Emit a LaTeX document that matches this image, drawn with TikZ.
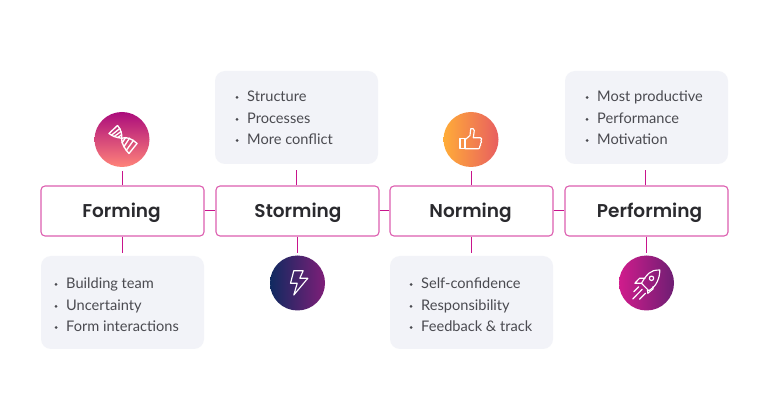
\documentclass[tikz,border=0pt]{standalone}
\usepackage{fontspec}
\setmainfont{Lato}
\newfontfamily\headfont{Poppins SemiBold}
\definecolor{mag}{HTML}{C8148C}
\definecolor{edgepink}{HTML}{DD5FB0}
\definecolor{panel}{HTML}{F2F3F8}
\definecolor{txt}{HTML}{4A4A50}
\definecolor{head}{HTML}{2A2A2E}
\definecolor{gaT}{HTML}{AB0C7C}
\definecolor{gaB}{HTML}{FF8379}
\definecolor{gbL}{HTML}{102A60}
\definecolor{gbR}{HTML}{7E1E78}
\definecolor{gcL}{HTML}{FFAC38}
\definecolor{gcR}{HTML}{E85E60}
\definecolor{gdL}{HTML}{D01C8C}
\definecolor{gdR}{HTML}{6E1E73}
\tikzset{
  stage/.style={draw=edgepink,line width=1.1pt,rounded corners=4pt,fill=white,minimum width=163pt,minimum height=50pt,inner sep=0,text=head,text height=14pt,text depth=0pt,font=\fontsize{18.5}{24}\selectfont\headfont},
  panelbox/.style={fill=panel,rounded corners=10pt,minimum width=163pt,minimum height=93pt,inner sep=0},
  icondisc/.style={circle,minimum size=55pt,inner sep=0},
  itemline/.style={anchor=base west,inner sep=0,text=txt,font=\fontsize{14.6}{17}\selectfont},
  bulletmark/.style={circle,fill=txt,minimum size=3pt,inner sep=0},
  link/.style={draw=mag,line width=1pt},
  iconline/.style={draw=white,line width=1.15pt,line join=round,line cap=round}
}
\newcommand{\itemrow}[4]{%
  \node[bulletmark] (#1b) at (#2-10,#3-4) {};
  \node[itemline] (#1t) at (#2,#3) {#4};}
\begin{document}
\begin{tikzpicture}[x=1pt,y=-1pt]
\useasboundingbox (0,0) rectangle (768,411);
\fill[white] (0,0) rectangle (768,411);
% stage boxes
\node[stage] (s1) at (122.5,211) {Forming\hspace*{2pt}};
\node[stage] (s2) at (297.5,211) {\hspace*{1pt}Storming};
\node[stage] (s3) at (471.5,211) {Norming\hspace*{2pt}};
\node[stage] (s4) at (646.5,211) {\hspace*{6pt}Performing};
% panels
\node[panelbox] (p1) at (122.5,302.5) {};
\node[panelbox] (p2) at (296.5,117.5) {};
\node[panelbox] (p3) at (471.5,302.5) {};
\node[panelbox] (p4) at (646.5,117.5) {};
% discs
\node[icondisc,top color=gaT,bottom color=gaB] (c1) at (122,139.5) {};
\node[icondisc,left color=gbL,right color=gbR] (c2) at (297.5,283) {};
\node[icondisc,left color=gcL,right color=gcR] (c3) at (471,139.5) {};
\node[icondisc,left color=gdL,right color=gdR] (c4) at (646.5,283) {};
\coordinate (t4) at (645.5,170);
% connectors
\draw[link] (s1.east) -- (s2.west);
\draw[link] (s2.east) -- (s3.west);
\draw[link] (s3.east) -- (s4.west);
\draw[link,shorten >=3.5pt] (s1.north -| c1) -- (c1.south);
\draw[link,shorten >=6pt] (s2.north -| p2) -- (p2.south);
\draw[link,shorten >=3.5pt] (s3.north -| c3) -- (c3.south);
\draw[link] (s4.north -| t4) -- (t4);
\draw[link,shorten >=3pt] (s1.south) -- (p1.north);
\draw[link,shorten >=2.5pt] (s2.south) -- (c2.north);
\draw[link,shorten >=3pt] (s3.south) -- (p3.north);
\draw[link,shorten >=2.5pt] (s4.south) -- (c4.north);
% lists
\itemrow{a1}{66}{288.5}{Building team}
\itemrow{a2}{66}{310.4}{Uncertainty}
\itemrow{a3}{66}{331.5}{Form interactions}
\itemrow{b1}{247}{101.5}{Structure}
\itemrow{b2}{247}{123.4}{Processes}
\itemrow{b3}{247}{144.5}{More conflict}
\itemrow{d1}{421}{288.5}{Self-confidence}
\itemrow{d2}{421}{310.4}{Responsibility}
\itemrow{d3}{421}{331.5}{Feedback \& track}
\itemrow{e1}{597}{101.5}{Most productive}
\itemrow{e2}{597}{123.4}{Performance}
\itemrow{e3}{597}{144.5}{Motivation}
% DNA icon
\begin{scope}[shift={(c1.center)},iconline,line width=1.35pt]
\draw (-4.5,-14) .. controls (-0.5,-10) and (0,-4) .. (-0.3,-1.2) .. controls (-1,3) and (3,10) .. (7,14);
\draw (-13,-6) .. controls (-9,-2.5) and (-4,-2) .. (-0.3,-1.2) .. controls (4,-3) and (10,-1) .. (15,4);
\draw (-4.5,-14) -- (-13,-6) (-2.2,-11) -- (-10.7,-4.2) (-1,-8) -- (-8,-2.8) (-0.3,-4.8) -- (-4.5,-1.8);
\draw (15,4) -- (7,14) (11.5,0.8) -- (4.2,11) (7.5,-1.3) -- (1.8,7.4) (3.5,-1.8) -- (0,3.4);
\end{scope}
% bolt icon
\begin{scope}[shift={(c2.center)},iconline]
\draw (-3.7,-12.3) -- (5.7,-12.3) -- (2.3,-4.7) -- (10.3,-4.7) -- (-3.7,12) -- (-0.3,0.3) -- (-7,0.3) -- cycle;
\end{scope}
% thumb icon
\begin{scope}[shift={(c3.center)},iconline]
\draw (-11,-0.7) rectangle (-6,9.3);
\draw (-6,0.3) -- (-1,-4) -- (-0.3,-10.7) .. controls (1,-11.5) and (3.3,-11) .. (3.3,-9) -- (2.3,-1.7) -- (9.5,-1.7) .. controls (11,-1.7) and (11,0.5) .. (10,1) .. controls (11,2) and (10.5,3.5) .. (9.5,4) .. controls (10,5) and (9.5,6.5) .. (8.8,6.7) .. controls (9,8) and (8.5,9.3) .. (7.3,9.3) -- (-6,9.3);
\end{scope}
% rocket icon
\begin{scope}[shift={(c4.center)},iconline]
\draw (13.3,-13) .. controls (8,-13) and (5,-12) .. (2.3,-9.7) .. controls (-1,-6.5) and (-3.5,-2.5) .. (-5,0.3) -- (2.3,7.7) .. controls (5,6) and (9,3) .. (10.7,-1.3) .. controls (12.5,-5) and (13.3,-9) .. (13.3,-13) -- cycle;
\draw (-1.5,-4.7) -- (-7,-4.7) -- (-11.7,0.3) -- (-5,0.3);
\draw (6.5,3.7) -- (6.5,6) -- (1.3,10.3) -- (1,7.2);
\draw (5,-4.7) circle (2.2pt);
\draw (-7.7,3.7) -- (-12.7,8.7) (-4.3,6.3) -- (-13.7,16) (-1,10.3) -- (-7,16.3);
\end{scope}
\end{tikzpicture}
\end{document}
